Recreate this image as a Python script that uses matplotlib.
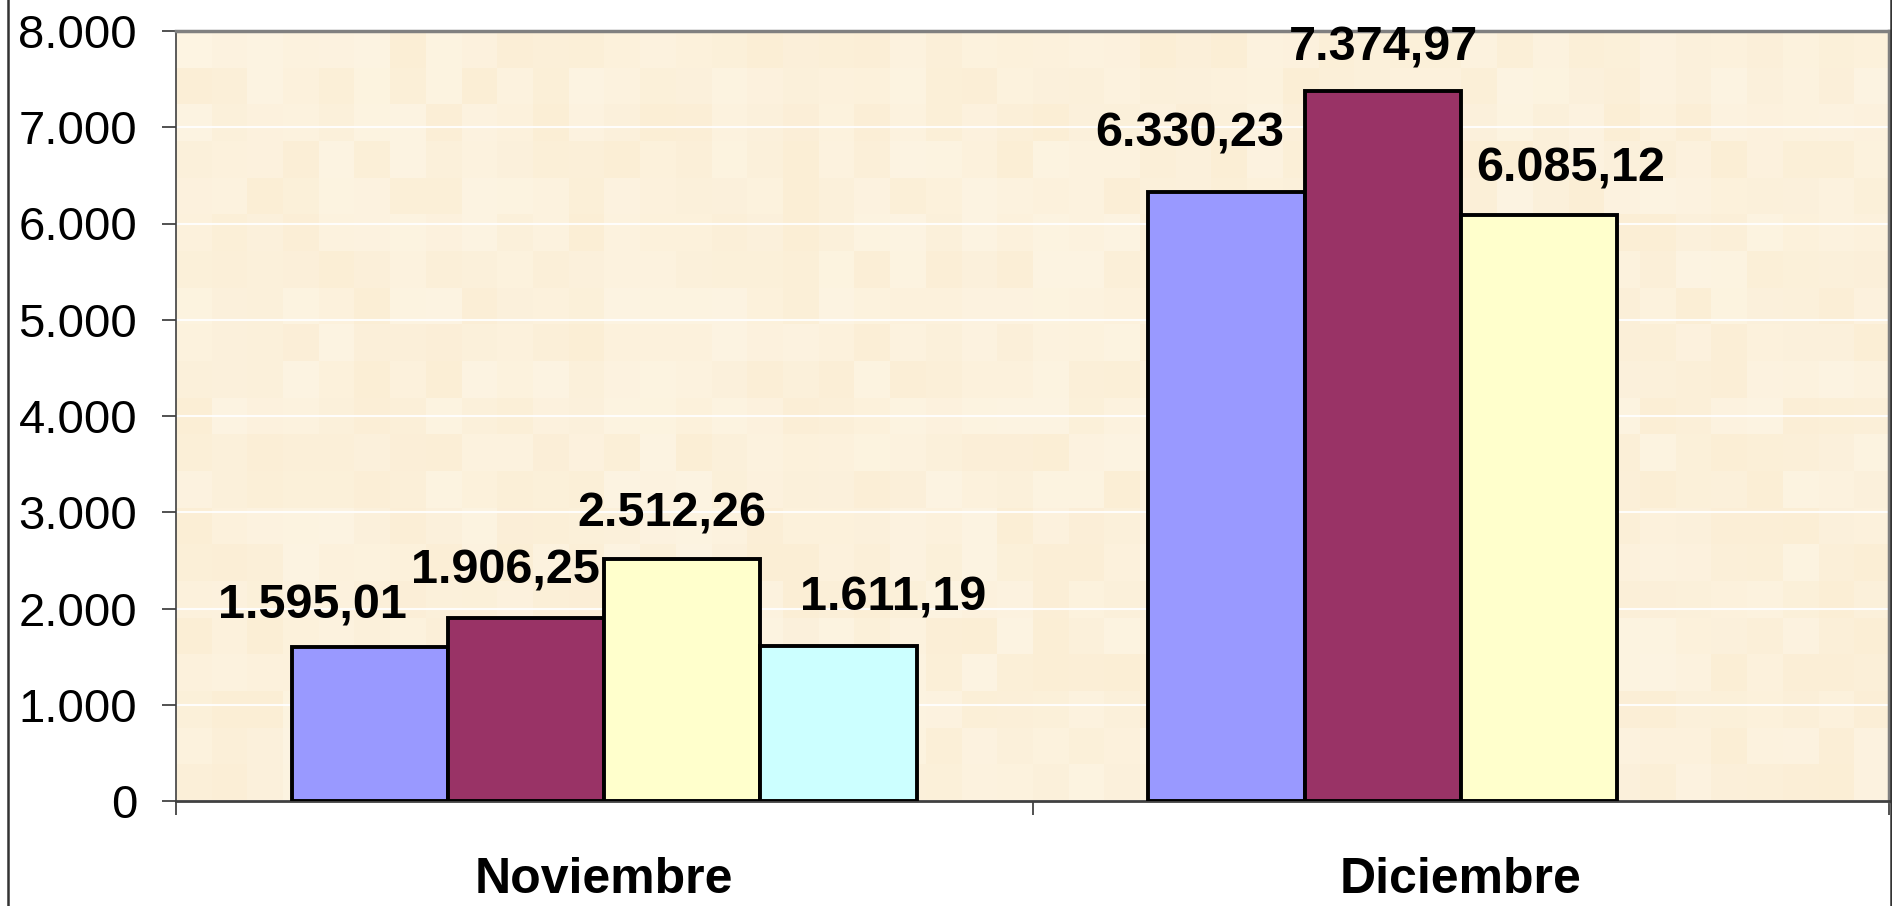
import numpy as np
import matplotlib
matplotlib.use("Agg")
import matplotlib.pyplot as plt
from matplotlib.lines import Line2D
from matplotlib.ticker import FuncFormatter, FixedLocator

# data
categories = ["Noviembre", "Diciembre"]
serie_1 = [1595.01, 6330.23]
serie_2 = [1906.25, 7374.97]
serie_3 = [2512.26, 6085.12]
serie_4 = [1611.19, None]
series = [serie_1, serie_2, serie_3, serie_4]
colors = ["#9999FF", "#993366", "#FFFFCC", "#CCFFFF"]

# label nudges (pixels) as placed in the original
label_dx = [[-58, -37], [-21, 1], [-10, 32], [55, 0]]
label_dy = [[29, 45], [34, 31], [33, 34], [35, 0]]


def es_num(v, dec=0):
    s = f"{v:,.{dec}f}"
    return s.replace(",", "X").replace(".", ",").replace("X", ".")


plt.rcParams["font.family"] = ["Liberation Sans", "DejaVu Sans"]

fig = plt.figure(figsize=(18.92, 9.06), dpi=100)
ax = fig.add_axes([176 / 1892, 1 - 801 / 906, 1713 / 1892, 770 / 906])

# mottled beige background, deterministic hash pattern
ny, nx = 21, 48
jj, ii = np.meshgrid(np.arange(nx), np.arange(ny))
h = np.sin(ii * 12.9898 + jj * 78.233) * 43758.5453
t = h - np.floor(h)
light = np.array([253, 244, 226]) / 255
dark = np.array([251, 238, 213]) / 255
tex = light[None, None, :] + t[..., None] * (dark - light)[None, None, :]
ax.imshow(tex, extent=[-0.5, 1.5, 0, 8000], aspect="auto", zorder=0,
          interpolation="nearest")

x = np.arange(len(categories))
w = 0.1823
for j, vals in enumerate(series):
    for i, v in enumerate(vals):
        if v is None:
            continue
        xpos = x[i] + (j - 1.5) * w
        ax.bar(xpos, v, width=w, color=colors[j], edgecolor="black",
               linewidth=2.8, zorder=3)
        ax.annotate(es_num(v, 2), (xpos, v),
                    xytext=(label_dx[j][i], label_dy[j][i]),
                    textcoords="offset pixels", ha="center", va="baseline",
                    fontsize=35, fontweight="bold", zorder=4)

ax.set_xlim(-0.5, 1.5)
ax.set_ylim(0, 8000)
ax.set_yticks(np.arange(0, 8001, 1000))
ax.yaxis.set_major_formatter(FuncFormatter(lambda v, p: es_num(v)))
ax.grid(axis="y", color="white", linewidth=1.5, alpha=0.9, zorder=1)
ax.set_axisbelow(True)

ax.set_xticks(x)
ax.set_xticklabels(categories, fontsize=36, fontweight="bold")
ax.xaxis.set_minor_locator(FixedLocator([-0.5, 0.5, 1.5]))
ax.tick_params(axis="x", which="major", length=0, pad=40)
ax.tick_params(axis="x", which="minor", length=10, width=1.2,
               direction="out", color="#333333")
ax.tick_params(axis="y", length=10, width=1.2, direction="out",
               labelsize=34, pad=18, color="#333333")

for side in ["top", "right"]:
    ax.spines[side].set_color("#808080")
    ax.spines[side].set_linewidth(2.5)
ax.spines["left"].set_color("#404040")
ax.spines["left"].set_linewidth(1.2)
ax.spines["bottom"].set_color("#404040")
ax.spines["bottom"].set_linewidth(2)

# outer frame lines at both sides of the image
fig.add_artist(Line2D([8 / 1892, 8 / 1892], [0, 1], color="#333333",
                      linewidth=1.8, transform=fig.transFigure))
fig.add_artist(Line2D([1890.5 / 1892, 1890.5 / 1892], [0, 1], color="#333333",
                      linewidth=1.8, transform=fig.transFigure))

fig.savefig("out.png", dpi=100)
